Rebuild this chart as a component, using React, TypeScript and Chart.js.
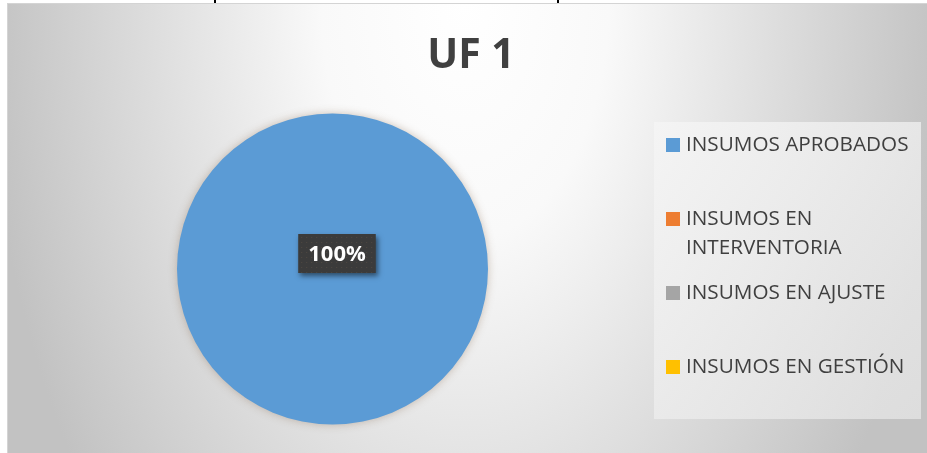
import React, { useEffect, useRef } from "react";
import { Chart, registerables } from "chart.js";

Chart.register(...registerables);

const title = "UF 1";
const categories = [
  "INSUMOS APROBADOS",
  "INSUMOS EN INTERVENTORIA",
  "INSUMOS EN AJUSTE",
  "INSUMOS EN GESTIÓN",
];
const values = [100, 0, 0, 0];
const colors = ["#5B9BD5", "#ED7D31", "#A5A5A5", "#FFC000"];

const FONT = '"Open Sans", "Noto Sans", sans-serif';

const backgroundPlugin = {
  id: "bgPlugin",
  beforeDraw(chart: any) {
    const ctx = chart.ctx;
    const W = chart.width;
    const H = chart.height;
    ctx.save();
    ctx.fillStyle = "#ffffff";
    ctx.fillRect(0, 0, W, H);
    const x0 = 7, y0 = 3;
    ctx.save();
    ctx.beginPath();
    ctx.rect(x0, y0, W - x0, H - y0);
    ctx.clip();
    ctx.translate(465, 0);
    ctx.scale(1, 800 / 480);
    const g = ctx.createRadialGradient(0, 0, 0, 0, 0, 480);
    g.addColorStop(0, "#ffffff");
    g.addColorStop(0.3, "#f9f9f9");
    g.addColorStop(1, "#c2c2c2");
    ctx.fillStyle = g;
    ctx.fillRect(-600, -10, 1200, 600);
    ctx.restore();
    ctx.strokeStyle = "#d4d4d4";
    ctx.lineWidth = 1;
    ctx.strokeRect(x0 + 0.5, y0 + 0.5, W - x0, H - y0);
    ctx.fillStyle = "#000000";
    ctx.fillRect(214, 0, 2, 3);
    ctx.fillRect(557, 0, 2, 3);
    // title
    ctx.fillStyle = "#404040";
    ctx.font = `bold 41px ${FONT}`;
    ctx.textAlign = "center";
    ctx.textBaseline = "alphabetic";
    ctx.fillText(title, 471, 68);
    // legend box
    const bx = 654, by = 122, bw = 267, bh = 297;
    const lg = ctx.createLinearGradient(bx, by, bx + bw, by + bh);
    lg.addColorStop(0, "rgba(245,245,245,0.85)");
    lg.addColorStop(1, "rgba(230,230,230,0.75)");
    ctx.fillStyle = lg;
    ctx.fillRect(bx, by, bw, bh);
    // legend entries
    ctx.font = `20.7px ${FONT}`;
    ctx.textAlign = "left";
    ctx.textBaseline = "middle";
    const labels: string[] = chart.data.labels;
    const bg: string[] = chart.data.datasets[0].backgroundColor;
    const maxW = 228;
    labels.forEach((lab, i) => {
      const yFirst = 145 + i * 74;
      ctx.fillStyle = bg[i];
      ctx.fillRect(666, yFirst - 7, 14, 14);
      const words = lab.split(" ");
      const lines: string[] = [];
      let cur = "";
      words.forEach((w) => {
        const t = cur ? cur + " " + w : w;
        if (ctx.measureText(t).width > maxW && cur) {
          lines.push(cur);
          cur = w;
        } else cur = t;
      });
      if (cur) lines.push(cur);
      ctx.fillStyle = "#3f3f3f";
      lines.forEach((ln, j) => ctx.fillText(ln, 686, yFirst + j * 29));
    });
    ctx.restore();
  },
  beforeDatasetsDraw(chart: any) {
    const ctx = chart.ctx;
    ctx.save();
    ctx.shadowColor = "rgba(120,90,60,0.35)";
    ctx.shadowBlur = 8;
    ctx.shadowOffsetX = 0;
    ctx.shadowOffsetY = 0;
  },
  afterDatasetsDraw(chart: any) {
    const ctx = chart.ctx;
    ctx.restore();
    const meta = chart.getDatasetMeta(0);
    const ds = chart.data.datasets[0];
    const total = ds.data.reduce((a: number, b: number) => a + b, 0);
    meta.data.forEach((arc: any, i: number) => {
      const v = ds.data[i];
      if (!v) return;
      const pct = Math.round((v / total) * 100) + "%";
      let cx: number, cy: number;
      if (v === total) {
        cx = arc.x + 4.5;
        cy = arc.y - 15.5;
      } else {
        const p = arc.tooltipPosition();
        cx = p.x;
        cy = p.y;
      }
      ctx.save();
      ctx.font = `bold 22px ${FONT}`;
      const tw = ctx.measureText(pct).width;
      const w = tw + 20, h = 39;
      ctx.shadowColor = "rgba(0,0,0,0.5)";
      ctx.shadowBlur = 5;
      ctx.shadowOffsetX = 2;
      ctx.shadowOffsetY = 3;
      ctx.fillStyle = "#3b3b3b";
      ctx.fillRect(cx - w / 2, cy - h / 2, w, h);
      ctx.shadowColor = "transparent";
      ctx.fillStyle = "rgba(120,100,80,0.35)";
      for (let yy = cy - h / 2 + 3; yy < cy + h / 2; yy += 5) {
        for (let xx = cx - w / 2 + 3; xx < cx + w / 2; xx += 5) {
          ctx.fillRect(xx, yy, 1, 1);
        }
      }
      ctx.fillStyle = "#ffffff";
      ctx.textAlign = "center";
      ctx.textBaseline = "middle";
      ctx.fillText(pct, cx, cy + 1);
      ctx.restore();
    });
  },
};

export default function App() {
  const ref = useRef<HTMLCanvasElement | null>(null);
  useEffect(() => {
    if (!ref.current) return;
    const chart = new Chart(ref.current, {
      type: "pie",
      data: {
        labels: categories,
        datasets: [
          {
            data: values,
            backgroundColor: colors,
            borderWidth: 0,
          },
        ],
      },
      options: {
        responsive: false,
        animation: false,
        layout: { padding: { left: 177, right: 439, top: 113, bottom: 28 } },
        plugins: {
          legend: { display: false },
          tooltip: { enabled: false },
          title: { display: false },
        },
      },
      plugins: [backgroundPlugin],
    });
    return () => chart.destroy();
  }, []);
  return (
    <div style={{ position: "fixed", left: 0, top: 0, width: 927, height: 453 }}>
      <canvas ref={ref} width={927} height={453} style={{ display: "block" }} />
    </div>
  );
}
